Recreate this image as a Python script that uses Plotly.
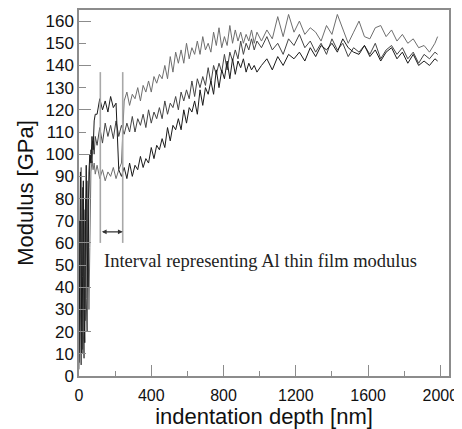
import plotly.graph_objects as go

# indentation depth [nm], shared by the three measurements
depth_nm = [
    0, 4, 8, 12, 16, 20, 24, 28, 32, 36, 40, 45, 50, 55, 60, 66, 72, 78, 84, 90,
    100, 115, 130, 145, 160, 175, 190, 205, 220, 235,
    250, 265, 280, 295, 310, 325, 340, 355, 370, 385,
    400, 415, 430, 445, 460, 475, 490, 505, 520, 535,
    550, 565, 580, 595, 610, 625, 640, 655, 670, 685,
    700, 715, 730, 745, 760, 775, 790, 805, 820, 835,
    850, 865, 880, 895, 910, 925, 940, 955, 970, 985,
    1010, 1040, 1070, 1100, 1130, 1160, 1190, 1220, 1250, 1280,
    1310, 1340, 1370, 1400, 1430, 1460, 1490, 1520, 1550, 1580,
    1610, 1640, 1670, 1700, 1730, 1760, 1790, 1820, 1850, 1880,
    1910, 1940, 1970, 1985,
]

# modulus [GPa], test 1 (black)
modulus_1 = [
    6, 40, 92, 55, 10, 45, 88, 30, 15, 70, 95, 60, 40, 92, 100, 96, 108, 102, 115, 118,
    118, 125, 120, 124, 119, 126, 121, 123, 93, 90,
    94, 89, 96, 90, 95, 93, 99, 94, 98, 96,
    103, 98, 104, 102, 107, 103, 112, 106, 113, 111,
    116, 111, 120, 114, 121, 119, 124, 118, 129, 122,
    130, 127, 133, 127, 138, 130, 138, 134, 142, 134,
    143, 136, 142, 139, 143, 137, 141, 138, 140, 137,
    140, 143, 138, 144, 140, 145, 143, 146, 142, 148,
    144, 149, 147, 150, 146, 152, 148, 146, 145, 149,
    144, 147, 142, 146, 148, 143, 146, 141, 145, 140,
    142, 140, 143, 142,
]

# modulus [GPa], test 2 (dark grey)
modulus_2 = [
    10, 70, 30, 5, 60, 85, 20, 8, 55, 80, 35, 20, 75, 90, 95, 102, 96, 106, 100, 108,
    104, 112, 105, 114, 108, 113, 107, 115, 108, 113,
    109, 114, 110, 117, 110, 116, 113, 118, 112, 120,
    114, 119, 116, 121, 116, 124, 118, 123, 121, 126,
    120, 128, 124, 129, 125, 133, 126, 134, 130, 135,
    131, 139, 132, 140, 136, 141, 137, 145, 138, 146,
    142, 147, 143, 151, 145, 150, 147, 152, 147, 151,
    148, 153, 147, 150, 145, 152, 149, 154, 148, 151,
    146, 150, 145, 152, 147, 150, 144, 148, 146, 149,
    145, 150, 143, 147, 149, 145, 148, 143, 146, 141,
    145, 143, 146, 145,
]

# modulus [GPa], test 3 (light grey)
modulus_3 = [
    3, 20, 60, 94, 35, 12, 40, 75, 60, 25, 50, 88, 62, 30, 58, 92, 97, 93, 96, 91,
    95, 89, 93, 88, 92, 90, 94, 89, 93, 96,
    124, 128, 122, 127, 125, 130, 124, 131, 128, 133,
    128, 135, 132, 136, 134, 140, 134, 144, 137, 146,
    141, 147, 141, 150, 143, 148, 145, 151, 145, 153,
    147, 150, 146, 155, 149, 157, 148, 153, 149, 158,
    150, 156, 151, 155, 150, 154, 151, 156, 150, 155,
    151, 156, 152, 162, 153, 163, 155, 160, 154, 157,
    155, 151, 158, 154, 163, 156, 150, 155, 160, 153,
    152, 157, 158, 153, 156, 151, 154, 150, 152, 148,
    149, 146, 150, 153,
]

# interval representing the Al thin film modulus
interval_nm = [118, 242]
interval_gpa = [60, 137]
arrow_gpa = 65
note = "Interval representing Al thin film modulus"

font = "Liberation Sans, Arial, sans-serif"
axis_grey = "#8c8c8c"

fig = go.Figure()
for vals, col in [(modulus_3, "#6e6e6e"), (modulus_2, "#444444"), (modulus_1, "#1a1a1a")]:
    fig.add_trace(go.Scatter(x=depth_nm, y=vals, mode="lines",
                             line=dict(color=col, width=1), showlegend=False))

# the two grey marker lines
lx, ly = [], []
for v in interval_nm:
    lx += [v, v, None]
    ly += [interval_gpa[0], interval_gpa[1], None]
fig.add_trace(go.Scatter(x=lx, y=ly, mode="lines", yaxis="y2",
                         line=dict(color="#a8a8a8", width=1.6), showlegend=False))

fig.add_annotation(x=interval_nm[1], y=arrow_gpa, ax=interval_nm[0], ay=arrow_gpa,
                   xref="x", yref="y", axref="x", ayref="y", text="",
                   showarrow=True, arrowside="end+start", arrowhead=2,
                   arrowsize=0.8, arrowwidth=1.2, arrowcolor="#333")
fig.add_annotation(x=interval_nm[0] + 11, y=52, xref="x", yref="y", text=note,
                   showarrow=False, xanchor="left", yanchor="middle",
                   font=dict(family="Liberation Serif, Times New Roman, serif",
                             size=18.5, color="#222"))

# the page body has an 8px margin, so the figure is 8px smaller and margins shifted
fig.update_layout(
    width=454, height=421,
    margin=dict(l=71, r=13, t=2, b=53),
    paper_bgcolor="white", plot_bgcolor="white",
    font=dict(family=font, color="#111"),
    xaxis=dict(
        range=[0, 2048], dtick=400, tick0=0, ticks="inside", ticklen=11,
        tickcolor=axis_grey, tickwidth=1.2,
        minor=dict(dtick=200, ticks="inside", ticklen=5, tickcolor=axis_grey),
        showline=True, linecolor=axis_grey, linewidth=1.5, mirror=True,
        showgrid=False, zeroline=False, tickfont=dict(size=16),
        ticklabelstandoff=4, automargin=False,
        title=dict(text="indentation depth [nm]", font=dict(size=22), standoff=3),
    ),
    yaxis=dict(
        range=[0, 165], dtick=10, tick0=0, ticks="inside", ticklen=7,
        tickcolor=axis_grey, tickwidth=1.2,
        showline=True, linecolor=axis_grey, linewidth=1.5, mirror=True,
        showgrid=False, zeroline=False, tickfont=dict(size=17), automargin=False,
        title=dict(text="Modulus [GPa]", font=dict(size=22), standoff=6),
    ),
    yaxis2=dict(
        range=[0, 165], dtick=20, tick0=0, ticks="inside", ticklen=12,
        tickcolor=axis_grey, tickwidth=1.2, overlaying="y", side="left",
        anchor="x", showticklabels=False, showgrid=False, zeroline=False,
        showline=False,
    ),
)

fig.write_html("out.html")
